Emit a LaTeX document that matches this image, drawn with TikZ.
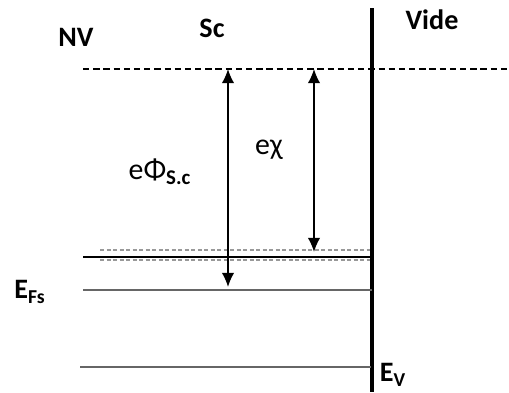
\documentclass[tikz,border=0pt]{standalone}
\usepackage{fontspec}
\setmainfont{Carlito}
\usetikzlibrary{arrows.meta,positioning}
\tikzset{
  level/.style={draw=black!60, line width=1.2pt},
  band/.style={draw=black!40, dash pattern=on 2.5pt off 1.2pt, line width=1.2pt},
  lbl/.style={font=\fontsize{16}{18}\selectfont\bfseries, inner sep=0pt},
  mlbl/.style={font=\fontsize{17}{19}\selectfont, inner sep=0pt},
  dbl/.style={{Latex[length=8pt,width=7pt]}-{Latex[length=8pt,width=7pt]}, line width=0.8pt}
}
\begin{document}
\begin{tikzpicture}[x=0.02cm,y=-0.02cm]
        \useasboundingbox (0,0) rectangle (509,392);
        % Region labels
        \node[lbl] (nv) at (76,37) {NV};
        \node[lbl] (sc) at (212,28) {Sc};
        \node[lbl] (vide) at (432,20) {Vide};
        % Vacuum level and surface
        \coordinate (vacL) at (83,69);
        \coordinate (vacR) at (509,69);
        \draw[line width=1.2pt, dash pattern=on 3.6pt off 2.2pt] (vacL) -- (vacR);
        \coordinate (wallT) at (372,8);
        \coordinate (wallB) at (372,392);
        \draw[line width=2.2pt] (wallT) -- (wallB);
        % Band edge with dotted band
        \draw[band] (100,250) -- (370,250);
        \draw[band] (100,260) -- (370,260);
        \coordinate (ecL) at (83,257);
        \coordinate (ecR) at (372,257);
        \draw[line width=1pt] (ecL) -- (ecR);
        % Fermi level and valence level
        \coordinate (efL) at (83,290);
        \coordinate (efR) at (372,290);
        \draw[level] (efL) -- (efR);
        \coordinate (evL) at (80,367);
        \coordinate (evR) at (371,367);
        \draw[level] (evL) -- (evR);
        \node[lbl] (efs) at (30,292) {E\textsubscript{Fs}};
        \node[lbl] (ev) at (393,375) {E\textsubscript{V}};
        % Work function and affinity
        \coordinate (phiT) at (228,69);
        \coordinate (phiB) at (228,287);
        \draw[dbl] (phiT) -- (phiB);
        \coordinate (chiT) at (314,69);
        \coordinate (chiB) at (314,252);
        \draw[dbl] (chiT) -- (chiB);
        \node[mlbl] (phi) at (160,172) {eΦ\textsubscript{\bfseries S.c}};
        \node[mlbl] (chi) at (269,150) {eχ};
      \end{tikzpicture}
\end{document}
